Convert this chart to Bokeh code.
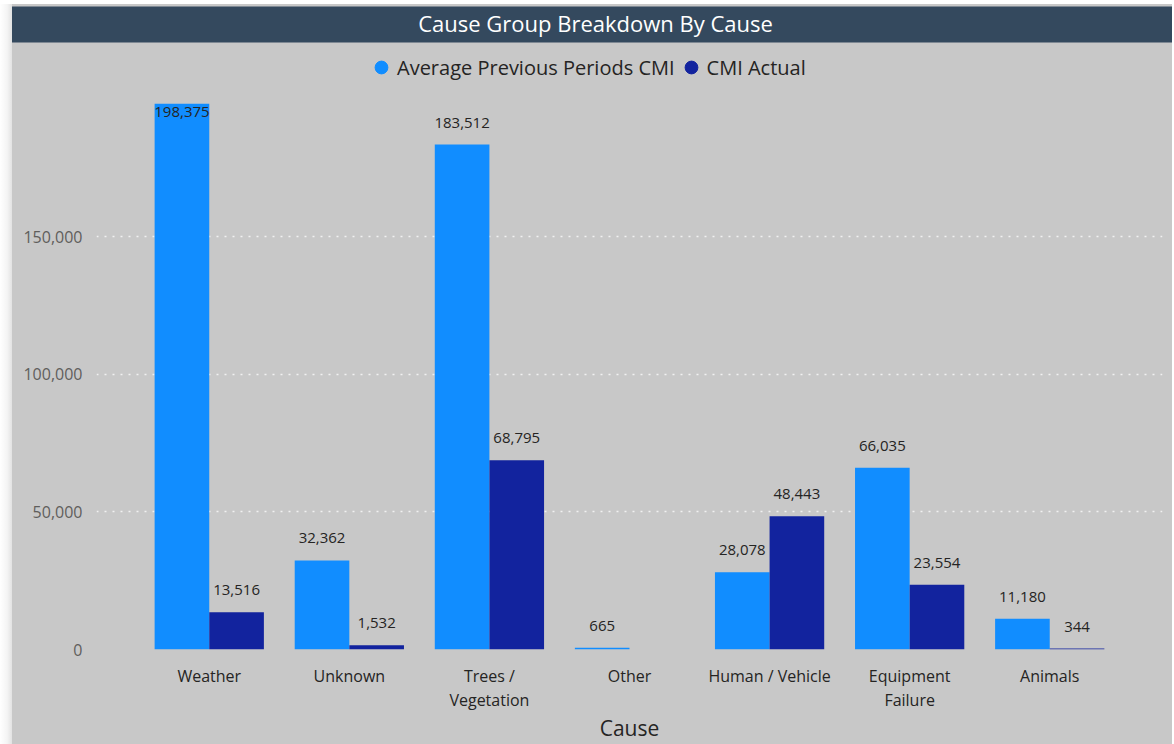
from bokeh.plotting import figure
from bokeh.models import (ColumnDataSource, FactorRange, Range1d, Legend, LegendItem,
                          NumeralTickFormatter, Spacer, Title)
from bokeh.layouts import column, row
from bokeh.transform import dodge
from bokeh.core.properties import value
from bokeh.embed import file_html
from bokeh.resources import INLINE

# ---- data ----
categories = ["Weather", "Unknown", "Trees /\nVegetation", "Other",
              "Human / Vehicle", "Equipment\nFailure", "Animals"]
avg_previous = [198375, 32362, 183512, 665, 28078, 66035, 11180]
cmi_actual = [13516, 1532, 68795, None, 48443, 23554, 344]
y_ticks = [0, 50000, 100000, 150000]
series_names = ["Average Previous Periods CMI", "CMI Actual"]
title_text = "Cause Group Breakdown By Cause"
x_title = "Cause"

# ---- style ----
FONT = "Open Sans"
LIGHT = "#118DFF"
DARK = "#12239E"
PANEL = "#C8C8C8"
HEADER = "#34495E"
TEXT = "#252423"
TICK = "#605E5C"
Y_MAX = 220600          # top of the plotting frame (frame includes the legend band)
LABEL_ROOM = 201750     # above this the value labels go inside the bar
BAR_W = 0.39
SHIFT = BAR_W / 2
NAN = float("nan")

def label_offset(v):
    return 8 if v > 0.95 * LABEL_ROOM else -22

src = ColumnDataSource(dict(
    cat=categories,
    avg=avg_previous,
    act=[NAN if v is None else v for v in cmi_actual],
    hidden=[NAN] * len(categories),
))
avg_lbl = ColumnDataSource(dict(
    cat=categories, y=avg_previous,
    txt=[f"{v:,}" for v in avg_previous],
    off=[label_offset(v) for v in avg_previous],
))
act_pairs = [(c, v) for c, v in zip(categories, cmi_actual) if v is not None]
act_lbl = ColumnDataSource(dict(
    cat=[c for c, _ in act_pairs], y=[v for _, v in act_pairs],
    txt=[f"{v:,}" for _, v in act_pairs],
    off=[label_offset(v) for _, v in act_pairs],
))

p = figure(width=1160, height=740,
           x_range=FactorRange(factors=categories, range_padding=0.305,
                               range_padding_units="absolute"),
           y_range=Range1d(0, Y_MAX),
           toolbar_location=None, output_backend="svg",
           min_border_left=84, min_border_right=10, min_border_top=0, min_border_bottom=95)
p.background_fill_color = PANEL
p.border_fill_color = PANEL
p.outline_line_color = None
p.styles = {"background-color": PANEL}

# title bar (box stretched across the whole panel)
p.title = Title(text=title_text, align="center",
                text_color="white", text_font=FONT, text_font_size="22px",
                text_font_style="normal",
                background_fill_color=HEADER, border_line_color=None,
                padding=(426, 494, 1, 5), standoff=0)

p.vbar(x=dodge("cat", -SHIFT, range=p.x_range), top="avg", width=BAR_W,
       color=LIGHT, line_color=None, source=src)
p.vbar(x=dodge("cat", SHIFT, range=p.x_range), top="act", width=BAR_W,
       color=DARK, line_color=None, source=src)

for s, sh in ((avg_lbl, -SHIFT), (act_lbl, SHIFT)):
    p.text(x=dodge("cat", sh, range=p.x_range), y="y", text="txt", y_offset="off",
           text_align="center", text_baseline="middle",
           text_font=value(FONT), text_font_size="15px", text_color=TEXT, source=s)

# legend (circle markers; NaN y so nothing is drawn in the plot)
r1 = p.scatter(x="cat", y="hidden", marker="circle", size=14, color=LIGHT, source=src)
r2 = p.scatter(x="cat", y="hidden", marker="circle", size=14, color=DARK, source=src)
legend = Legend(items=[LegendItem(label=series_names[0], renderers=[r1]),
                       LegendItem(label=series_names[1], renderers=[r2])],
                orientation="horizontal", location=(269, 566),
                label_text_font=FONT, label_text_font_size="20px", label_text_color=TEXT,
                background_fill_alpha=0, border_line_color=None,
                glyph_width=32, glyph_height=32, label_standoff=-2, spacing=-12,
                padding=0, margin=0)
p.add_layout(legend, "center")

# axes
p.yaxis.ticker = y_ticks
p.yaxis.formatter = NumeralTickFormatter(format="0,0")
p.yaxis.axis_line_color = None
p.yaxis.major_tick_line_color = None
p.yaxis.minor_tick_line_color = None
p.yaxis.major_label_text_color = TICK
p.yaxis.major_label_text_font = FONT
p.yaxis.major_label_text_font_size = "16px"
p.yaxis.major_label_standoff = 8

p.xaxis.axis_line_color = None
p.xaxis.major_tick_line_color = None
p.xaxis.minor_tick_line_color = None
p.xaxis.major_label_text_color = TEXT
p.xaxis.major_label_text_font = FONT
p.xaxis.major_label_text_font_size = "16px"
p.xaxis.major_label_text_line_height = 1.1
p.xaxis.major_label_standoff = 9
p.xaxis.axis_label = x_title
p.xaxis.axis_label_text_font = FONT
p.xaxis.axis_label_text_font_size = "21px"
p.xaxis.axis_label_text_font_style = "normal"
p.xaxis.axis_label_text_color = TEXT
p.xaxis.axis_label_standoff = 0

p.xgrid.grid_line_color = None
p.ygrid.grid_line_color = "white"
p.ygrid.grid_line_alpha = 0.75
p.ygrid.grid_line_width = 1.5
p.ygrid.grid_line_dash = "2 6"

shadow = Spacer(width=12, height=740,
                styles={"background": "linear-gradient(to right, #ffffff 0%, #f4f4f4 60%, #e2e2e2 100%)"})
layout = column(Spacer(height=4), row(shadow, p))

open("out.html", "w").write(file_html(layout, INLINE))
